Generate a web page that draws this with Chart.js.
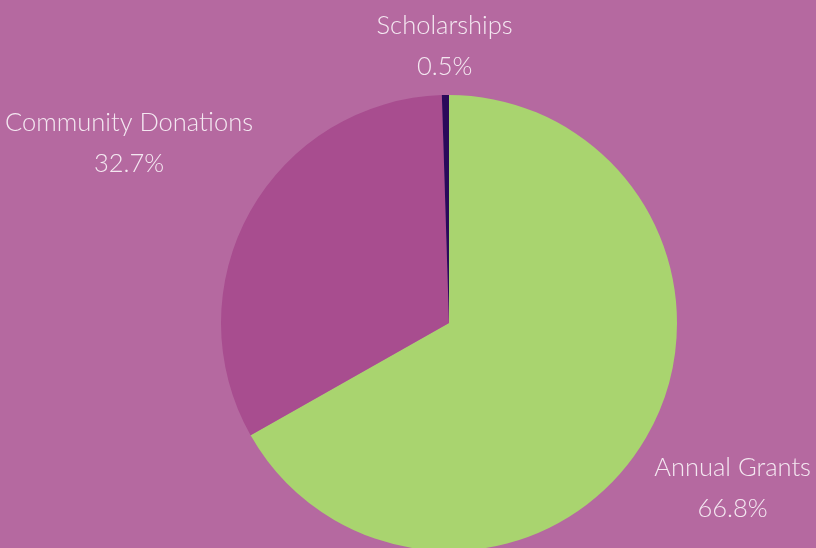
<!DOCTYPE html>
<html>
<head>
<meta charset="utf-8">
<script src="https://cdn.jsdelivr.net/npm/chart.js@4/dist/chart.umd.min.js"></script>
<style>
  html, body { margin: 0; padding: 0; background: #b569a0; }
  #wrap { width: 816px; height: 548px; position: relative; }
</style>
</head>
<body>
<div id="wrap"><canvas id="pieChart"></canvas></div>
<script>
const categories = ['Annual Grants', 'Community Donations', 'Scholarships'];
const shares = [66.8, 32.7, 0.5];
const sliceColors = ['#a9d46f', '#a84d8f', '#2a0a5a'];
// how far out each label sits, as a multiple of the radius
const labelDistance = [1.44, 1.61, 1.215];

// Labels drawn outside each slice, along its middle angle
const outsideLabels = {
    id: 'outsideLabels',
    afterDatasetsDraw(chart) {
        const ctx = chart.ctx;
        const meta = chart.getDatasetMeta(0);
        ctx.save();
        ctx.fillStyle = '#f4e8f1';
        ctx.font = '300 25.5px Lato';
        ctx.textAlign = 'center';
        ctx.textBaseline = 'middle';
        meta.data.forEach((arc, i) => {
            const { x, y, startAngle, endAngle, outerRadius } = arc.getProps(['x', 'y', 'startAngle', 'endAngle', 'outerRadius'], true);
            const mid = (startAngle + endAngle) / 2;
            const d = outerRadius * labelDistance[i];
            const lx = x + Math.cos(mid) * d;
            const ly = y + Math.sin(mid) * d;
            ctx.fillText(categories[i], lx, ly - 20.5);
            ctx.fillText(shares[i].toFixed(1) + '%', lx, ly + 20.5);
        });
        ctx.restore();
    }
};

new Chart(document.getElementById('pieChart'), {
    type: 'pie',
    data: {
        labels: categories,
        datasets: [{
            data: shares,
            backgroundColor: sliceColors,
            borderWidth: 0,
            radius: 228
        }]
    },
    options: {
        responsive: true,
        maintainAspectRatio: false,
        animation: false,
        layout: { padding: { left: 82, right: 0, top: 98, bottom: 0 } },
        plugins: {
            legend: { display: false },
            tooltip: { enabled: false }
        }
    },
    plugins: [outsideLabels]
});
</script>
</body>
</html>
